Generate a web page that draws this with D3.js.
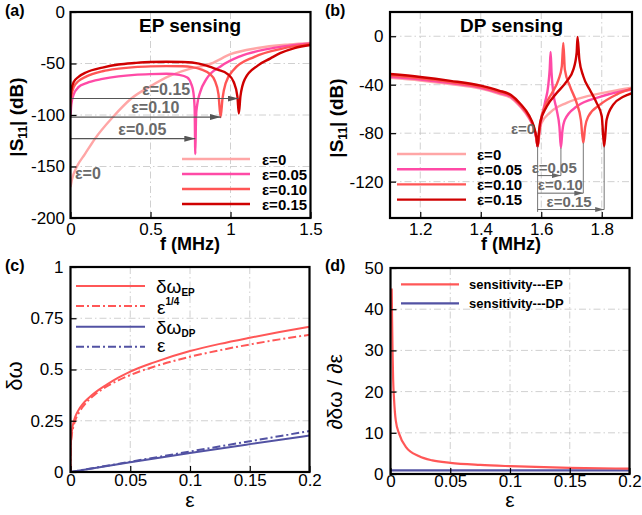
<!DOCTYPE html>
<html>
<head>
<meta charset="utf-8">
<script src="https://cdn.jsdelivr.net/npm/d3@7"></script>
<style>
body { margin: 0; background: #fff; }
text { font-family: Arial, "Liberation Sans", Helvetica, sans-serif; }
</style>
</head>
<body>
<script>
// ---------- data ----------
// (a) EP sensing: f (MHz) vs |S11| (dB)
var fA_e0   = [0, 0.01, 0.02, 0.04, 0.09, 0.153, 0.265, 0.38, 0.5, 0.62, 0.75, 0.88, 1.0, 1.17, 1.37, 1.5];
var sA_e0   = [-170, -162, -157, -150, -138, -123, -102, -84, -72, -62, -55, -50, -41, -35, -31.5, -30];
var fA_e05  = [0, 0.005, 0.02, 0.05, 0.1, 0.2, 0.3, 0.4, 0.5, 0.6, 0.68, 0.73, 0.755, 0.768, 0.776, 0.78, 0.785, 0.792, 0.81, 0.85, 0.94, 1.06, 1.23, 1.5];
var sA_e05  = [-102, -90, -80, -73, -69, -65, -62.5, -61, -60.3, -60, -61, -63.5, -70, -78, -94, -138, -100, -90, -78, -65, -52.6, -43, -36, -30.5];
var fA_e10  = [0, 0.005, 0.02, 0.05, 0.1, 0.2, 0.3, 0.4, 0.5, 0.6, 0.7, 0.76, 0.82, 0.87, 0.9, 0.925, 0.938, 0.95, 0.97, 1.02, 1.15, 1.33, 1.5];
var sA_e10  = [-92, -82, -73, -67, -62.5, -57.5, -55, -53.5, -52.8, -52.5, -52.7, -53.5, -56, -60, -66, -80, -102, -84, -69, -56, -43.5, -35.3, -31];
var fA_e15  = [0, 0.005, 0.02, 0.05, 0.1, 0.2, 0.3, 0.4, 0.5, 0.6, 0.7, 0.76, 0.85, 0.92, 0.98, 1.02, 1.043, 1.052, 1.062, 1.09, 1.17, 1.25, 1.31, 1.4, 1.5];
var sA_e15  = [-84, -76, -68, -63, -58.5, -54, -51, -49.5, -48.5, -48.3, -48.5, -49, -52, -56, -60, -68, -82, -98.5, -82, -65, -52, -45, -40, -35, -32];
var arrowA_dB  = [-123, -102, -84];
var arrowA_end = [0.78, 0.94, 1.05];
var arrowA_txt = ["\u03b5=0.05", "\u03b5=0.10", "\u03b5=0.15"];
var arrowA_lab = [0.449, 0.53, 0.598];

// (b) DP sensing
var fB_e0  = [1.1, 1.2, 1.3, 1.4, 1.46, 1.5, 1.53, 1.56, 1.575, 1.584, 1.588, 1.592, 1.6, 1.629, 1.684, 1.761, 1.83, 1.9];
var sB_e0  = [-34.4, -36.5, -39.5, -43.3, -47.5, -51, -58, -68, -76, -85, -91, -85, -72, -63, -55, -49, -45.5, -42.5];
var fB_e05 = [1.1, 1.2, 1.3, 1.4, 1.46, 1.5, 1.53, 1.56, 1.575, 1.584, 1.588, 1.592, 1.6, 1.612, 1.623, 1.628, 1.631, 1.634, 1.64, 1.651, 1.66, 1.665, 1.67, 1.678, 1.717, 1.794, 1.9];
var sB_e05 = [-33.5, -35.7, -38.7, -42.5, -46.7, -50.2, -57.3, -67.3, -75.5, -84.5, -91, -82, -69, -55, -41, -27, -13, -30, -47, -60.7, -74.5, -92, -78, -69, -58, -50, -44];
var fB_e10 = [1.1, 1.2, 1.3, 1.4, 1.46, 1.5, 1.53, 1.56, 1.575, 1.584, 1.588, 1.592, 1.598, 1.612, 1.635, 1.657, 1.668, 1.673, 1.678, 1.695, 1.717, 1.731, 1.739, 1.745, 1.756, 1.794, 1.85, 1.9];
var sB_e10 = [-32.5, -34.8, -37.8, -41.7, -45.8, -49.3, -56.5, -66.5, -75, -84, -91, -82, -70, -58, -47, -35.8, -24.8, -5.5, -27.6, -41.4, -55, -69, -88, -75, -66, -56.5, -48, -43];
var fB_e15 = [1.1, 1.2, 1.3, 1.4, 1.46, 1.5, 1.53, 1.56, 1.575, 1.584, 1.588, 1.592, 1.596, 1.618, 1.651, 1.684, 1.706, 1.717, 1.72, 1.726, 1.739, 1.76, 1.783, 1.8, 1.808, 1.816, 1.838, 1.871, 1.9];
var sB_e15 = [-31.2, -33.6, -36.8, -40.8, -44.8, -48.5, -55.5, -65.5, -74, -83.5, -91, -80, -71.7, -58, -46.9, -37.3, -27.6, -13.8, -0.5, -19.3, -33, -44, -55, -66, -91, -69, -56.5, -50, -47];
var dipB_f0   = 1.588;
var dipB_f    = [1.665, 1.739, 1.808];
var dipB_top  = [-92, -88, -91];
var arrowB_dB = [-115, -129.5, -143];
var arrowB_lab = [1.643, 1.663, 1.692];
var arrowB_txt = ["\u03b5=0.05", "\u03b5=0.10", "\u03b5=0.15"];

// (c) frequency splitting vs perturbation
var epsC_ep   = [0, 0.0003, 0.001, 0.002, 0.004, 0.007, 0.01, 0.015, 0.02, 0.03, 0.04, 0.05, 0.07, 0.1, 0.125, 0.15, 0.175, 0.2];
var dwEP      = [0, 0.13, 0.19, 0.23, 0.27, 0.305, 0.33, 0.36, 0.385, 0.425, 0.46, 0.49, 0.535, 0.59, 0.625, 0.655, 0.683, 0.709];
var quarterEP = [0, 0.13, 0.178, 0.211, 0.252, 0.289, 0.316, 0.35, 0.376, 0.416, 0.447, 0.473, 0.514, 0.562, 0.594, 0.622, 0.647, 0.669];
var epsC_dp   = [0, 0.05, 0.1, 0.15, 0.2];
var dwDP      = [0, 0.048, 0.093, 0.136, 0.178];
var linDP     = [0, 0.05, 0.1, 0.15, 0.2];

// (d) sensitivity
var epsD_ep = [0.001, 0.0013, 0.0017, 0.0022, 0.003, 0.0044, 0.0072, 0.0128, 0.024, 0.035, 0.05, 0.075, 0.1, 0.15, 0.2];
var sensEP  = [45, 38, 30, 23, 18, 13, 9.8, 6.6, 4.3, 3.3, 2.7, 2.2, 1.9, 1.5, 1.3];
var epsD_dp = [0, 0.2];
var sensDP  = [0.9, 0.9];

// colours
var cE0 = "#ffa6a6", cE05 = "#ff4aa6", cE10 = "#ff5555", cE15 = "#cf0000";
var cRed = "#ff5757", cBlue = "#5252a3";

// ---------- drawing ----------
var svg = d3.select("body").append("svg").attr("width", 642).attr("height", 515);
var defs = svg.append("defs");

function marker(id, col, len, wid) {
  defs.append("marker").attr("id", id)
    .attr("viewBox", "0 0 " + len + " " + wid)
    .attr("refX", len).attr("refY", wid / 2)
    .attr("markerWidth", len).attr("markerHeight", wid)
    .attr("markerUnits", "userSpaceOnUse").attr("orient", "auto")
    .append("path").attr("d", "M0,0L" + len + "," + wid / 2 + "L0," + wid + "Z").attr("fill", col);
}
marker("arrA", "#555", 11, 6);
marker("arrB", "#666", 9, 5);

function makePanel(id, box, xd, yd, xGrid, yGrid) {
  var x = d3.scaleLinear().domain(xd).range([box.l, box.r]);
  var y = d3.scaleLinear().domain(yd).range([box.b, box.t]);
  var g = svg.append("g");
  defs.append("clipPath").attr("id", "clip" + id).append("rect")
    .attr("x", box.l).attr("y", box.t).attr("width", box.r - box.l).attr("height", box.b - box.t);
  g.selectAll(".gx").data(xGrid).enter().append("line")
    .attr("x1", function(d) { return x(d); }).attr("x2", function(d) { return x(d); })
    .attr("y1", box.t).attr("y2", box.b)
    .attr("stroke", "#c4c4c4").attr("stroke-width", 0.8).attr("stroke-dasharray", "7,3,1.5,3");
  g.selectAll(".gy").data(yGrid).enter().append("line")
    .attr("y1", function(d) { return y(d); }).attr("y2", function(d) { return y(d); })
    .attr("x1", box.l).attr("x2", box.r)
    .attr("stroke", "#c4c4c4").attr("stroke-width", 0.8).attr("stroke-dasharray", "7,3,1.5,3");
  var plot = g.append("g").attr("clip-path", "url(#clip" + id + ")");
  return { x: x, y: y, g: g, plot: plot, box: box };
}

function finishAxes(p, xt, yt, xm, ym, padX, padY) {
  var fmt = function(d) { return String(d); };
  var b = p.box;
  var ax = p.g.append("g").attr("transform", "translate(0," + b.b + ")");
  ax.call(d3.axisBottom(p.x).tickValues(xm).tickSize(-3).tickFormat(""));
  ax.call(d3.axisBottom(p.x).tickValues(xt).tickSize(-6).tickPadding(padX).tickFormat(fmt));
  var ay = p.g.append("g").attr("transform", "translate(" + b.l + ",0)");
  ay.call(d3.axisLeft(p.y).tickValues(ym).tickSize(-3).tickFormat(""));
  ay.call(d3.axisLeft(p.y).tickValues(yt).tickSize(-6).tickPadding(padY).tickFormat(fmt));
  [ax, ay].forEach(function(a) {
    a.selectAll(".domain").remove();
    a.selectAll("line").attr("stroke", "#000").attr("stroke-width", 1.2);
    a.selectAll("text").attr("font-size", 17).attr("fill", "#000")
      .attr("font-family", "Arial, 'Liberation Sans', sans-serif");
  });
  p.g.append("rect").attr("x", b.l).attr("y", b.t).attr("width", b.r - b.l).attr("height", b.b - b.t)
    .attr("fill", "none").attr("stroke", "#000").attr("stroke-width", 2.2);
}

function curve(p, xs, ys, col, w, dash) {
  p.plot.append("path").datum(d3.zip(xs, ys))
    .attr("d", d3.line().x(function(d) { return p.x(d[0]); }).y(function(d) { return p.y(d[1]); })
      .curve(d3.curveMonotoneX))
    .attr("fill", "none").attr("stroke", col).attr("stroke-width", w)
    .attr("stroke-dasharray", dash || null);
}

function label(x, y, txt, size, weight, anchor, col) {
  return svg.append("text").attr("x", x).attr("y", y).text(txt)
    .attr("font-size", size).attr("font-weight", weight || "normal")
    .attr("text-anchor", anchor || "start").attr("fill", col || "#000");
}

function s11Label(x, y) {
  var t = svg.append("text").attr("transform", "translate(" + x + "," + y + ") rotate(-90)")
    .attr("text-anchor", "middle").attr("font-weight", "bold").attr("font-size", 19);
  t.append("tspan").text("|S");
  t.append("tspan").attr("font-size", 12).attr("dy", 4).text("11");
  t.append("tspan").attr("dy", -4).text("| (dB)");
}

// ===== (a) =====
var pa = makePanel("a", { l: 70.5, r: 310.5, t: 12, b: 218 }, [0, 1.5], [-200, 0], [0.5, 1], [-50, -100, -150]);
curve(pa, fA_e0, sA_e0, cE0, 2.4);
curve(pa, fA_e05, sA_e05, cE05, 2.4);
curve(pa, fA_e10, sA_e10, cE10, 2.4);
curve(pa, fA_e15, sA_e15, cE15, 2.4);
arrowA_dB.forEach(function(v, i) {
  pa.g.append("line").attr("x1", pa.x(0)).attr("x2", pa.x(arrowA_end[i]))
    .attr("y1", pa.y(v)).attr("y2", pa.y(v))
    .attr("stroke", "#555").attr("stroke-width", 1.2).attr("marker-end", "url(#arrA)");
  label(pa.x(arrowA_lab[i]), pa.y(v) - 4, arrowA_txt[i], 16, "bold", "middle", "#6a6a6a");
});
label(pa.x(0.028), pa.y(-162), "\u03b5=0", 16, "bold", "start", "#6a6a6a");
finishAxes(pa, [0, 0.5, 1, 1.5], [-200, -150, -100, -50, 0],
  d3.range(0, 1.5001, 0.1), d3.range(-200, 0.1, 10), 5, 5.5);
var legA = [["\u03b5=0", cE0], ["\u03b5=0.05", cE05], ["\u03b5=0.10", cE10], ["\u03b5=0.15", cE15]];
legA.forEach(function(d, i) {
  var yy = 159 + i * 15;
  svg.append("line").attr("x1", 182).attr("x2", 250).attr("y1", yy).attr("y2", yy)
    .attr("stroke", d[1]).attr("stroke-width", 2.4);
  label(262, yy + 5.5, d[0], 15, "bold");
});
label(190, 31.5, "EP sensing", 19, "bold", "middle");
s11Label(23, 117);
label(190, 250, "f (MHz)", 18, "bold", "middle");
label(5, 16, "(a)", 16, "bold");

// ===== (b) =====
var pb = makePanel("b", { l: 390, r: 632, t: 12, b: 218 }, [1.1, 1.9], [-150, 20], [1.2, 1.4, 1.6, 1.8], [0, -40, -80, -120]);
// guide lines under the dips
pb.g.append("line").attr("x1", pb.x(dipB_f0)).attr("x2", pb.x(dipB_f0))
  .attr("y1", pb.y(-91)).attr("y2", pb.y(-145)).attr("stroke", "#777").attr("stroke-width", 1);
dipB_f.forEach(function(f, i) {
  pb.g.append("line").attr("x1", pb.x(f)).attr("x2", pb.x(f))
    .attr("y1", pb.y(dipB_top[i])).attr("y2", pb.y(arrowB_dB[i])).attr("stroke", "#777").attr("stroke-width", 1);
  pb.g.append("line").attr("x1", pb.x(dipB_f0)).attr("x2", pb.x(f))
    .attr("y1", pb.y(arrowB_dB[i])).attr("y2", pb.y(arrowB_dB[i]))
    .attr("stroke", "#666").attr("stroke-width", 1).attr("marker-end", "url(#arrB)");
  label(pb.x(arrowB_lab[i]), pb.y(arrowB_dB[i]) - 3, arrowB_txt[i], 15, "bold", "middle", "#6a6a6a");
});
curve(pb, fB_e0, sB_e0, cE0, 2.4);
curve(pb, fB_e05, sB_e05, cE05, 2.4);
curve(pb, fB_e10, sB_e10, cE10, 2.4);
curve(pb, fB_e15, sB_e15, cE15, 2.4);
label(pb.x(1.58), pb.y(-80.3), "\u03b5=0", 15, "bold", "end", "#6a6a6a");
finishAxes(pb, [1.2, 1.4, 1.6, 1.8], [-120, -80, -40, 0],
  d3.range(1.1, 1.9001, 0.05), d3.range(-150, 20.1, 10), 5, 6.5);
legA.forEach(function(d, i) {
  var yy = 154 + i * 15.2;
  svg.append("line").attr("x1", 397).attr("x2", 466).attr("y1", yy).attr("y2", yy)
    .attr("stroke", d[1]).attr("stroke-width", 2.4);
  label(477, yy + 5.5, d[0], 15, "bold");
});
label(511.5, 31.5, "DP sensing", 19, "bold", "middle");
s11Label(343, 118);
label(511, 250, "f (MHz)", 18, "bold", "middle");
label(325, 16, "(b)", 16, "bold");

// ===== (c) =====
var pc = makePanel("c", { l: 70.5, r: 309.5, t: 267, b: 472 }, [0, 0.2], [0, 1], [0.05, 0.1, 0.15], [0.25, 0.5, 0.75]);
curve(pc, epsC_dp, linDP, cBlue, 2, "8,3,2,3");
curve(pc, epsC_dp, dwDP, cBlue, 2);
curve(pc, epsC_ep, quarterEP, cRed, 2, "8,3,2,3");
curve(pc, epsC_ep, dwEP, cRed, 2);
finishAxes(pc, [0, 0.05, 0.1, 0.15, 0.2], [0, 0.25, 0.5, 0.75, 1],
  d3.range(0, 0.2001, 0.01), d3.range(0, 1.001, 0.05), 2, 7);
var legC = [[cRed, null], [cRed, "8,3,2,3"], [cBlue, null], [cBlue, "8,3,2,3"]];
legC.forEach(function(d, i) {
  var yy = [286, 306, 326.7, 346.7][i];
  svg.append("line").attr("x1", 76).attr("x2", 145).attr("y1", yy).attr("y2", yy)
    .attr("stroke", d[0]).attr("stroke-width", 2).attr("stroke-dasharray", d[1]);
});
function serif(x, y, size) {
  return svg.append("text").attr("x", x).attr("y", y).attr("font-size", size)
    .attr("font-family", "'Liberation Serif', 'DejaVu Serif', serif");
}
var t1 = serif(156, 293, 19); t1.append("tspan").text("\u03b4\u03c9");
t1.append("tspan").attr("dy", 3).attr("font-size", 10).attr("font-weight", "bold")
  .attr("font-family", "Arial, sans-serif").text("EP");
var t2 = serif(157, 314, 19); t2.append("tspan").text("\u03b5");
t2.append("tspan").attr("dy", -9).attr("font-size", 10).attr("font-weight", "bold")
  .attr("font-family", "Arial, sans-serif").text("1/4");
var t3 = serif(156, 333.5, 19); t3.append("tspan").text("\u03b4\u03c9");
t3.append("tspan").attr("dy", 3).attr("font-size", 10).attr("font-weight", "bold")
  .attr("font-family", "Arial, sans-serif").text("DP");
serif(157, 352, 19).text("\u03b5");
serif(190, 507, 21).attr("text-anchor", "middle").text("\u03b5");
serif(0, 0, 22).attr("transform", "translate(22,376) rotate(-90)").attr("text-anchor", "middle").text("\u03b4\u03c9");
label(5, 271, "(c)", 16, "bold");

// ===== (d) =====
var pd = makePanel("d", { l: 390.5, r: 629.5, t: 268, b: 474 }, [0, 0.2], [0, 50], [0.05, 0.1, 0.15], [10, 20, 30, 40]);
curve(pd, epsD_dp, sensDP, cBlue, 2.2);
curve(pd, epsD_ep, sensEP, cRed, 2.2);
finishAxes(pd, [0, 0.05, 0.1, 0.15, 0.2], [0, 10, 20, 30, 40, 50],
  d3.range(0, 0.2001, 0.01), d3.range(0, 50.1, 2), 1, 7);
[["sensitivity---EP", cRed], ["sensitivity---DP", cBlue]].forEach(function(d, i) {
  var yy = [284.3, 303.3][i];
  svg.append("line").attr("x1", 401).attr("x2", 459).attr("y1", yy).attr("y2", yy)
    .attr("stroke", d[1]).attr("stroke-width", 2.2);
  label(469, yy + 4.5, d[0], 13, "bold");
});
serif(510, 507, 21).attr("text-anchor", "middle").text("\u03b5");
serif(0, 0, 21).attr("transform", "translate(342,392) rotate(-90)").attr("text-anchor", "middle")
  .text("\u2202\u03b4\u03c9 / \u2202\u03b5");
label(325, 271, "(d)", 16, "bold");
</script>
</body>
</html>
